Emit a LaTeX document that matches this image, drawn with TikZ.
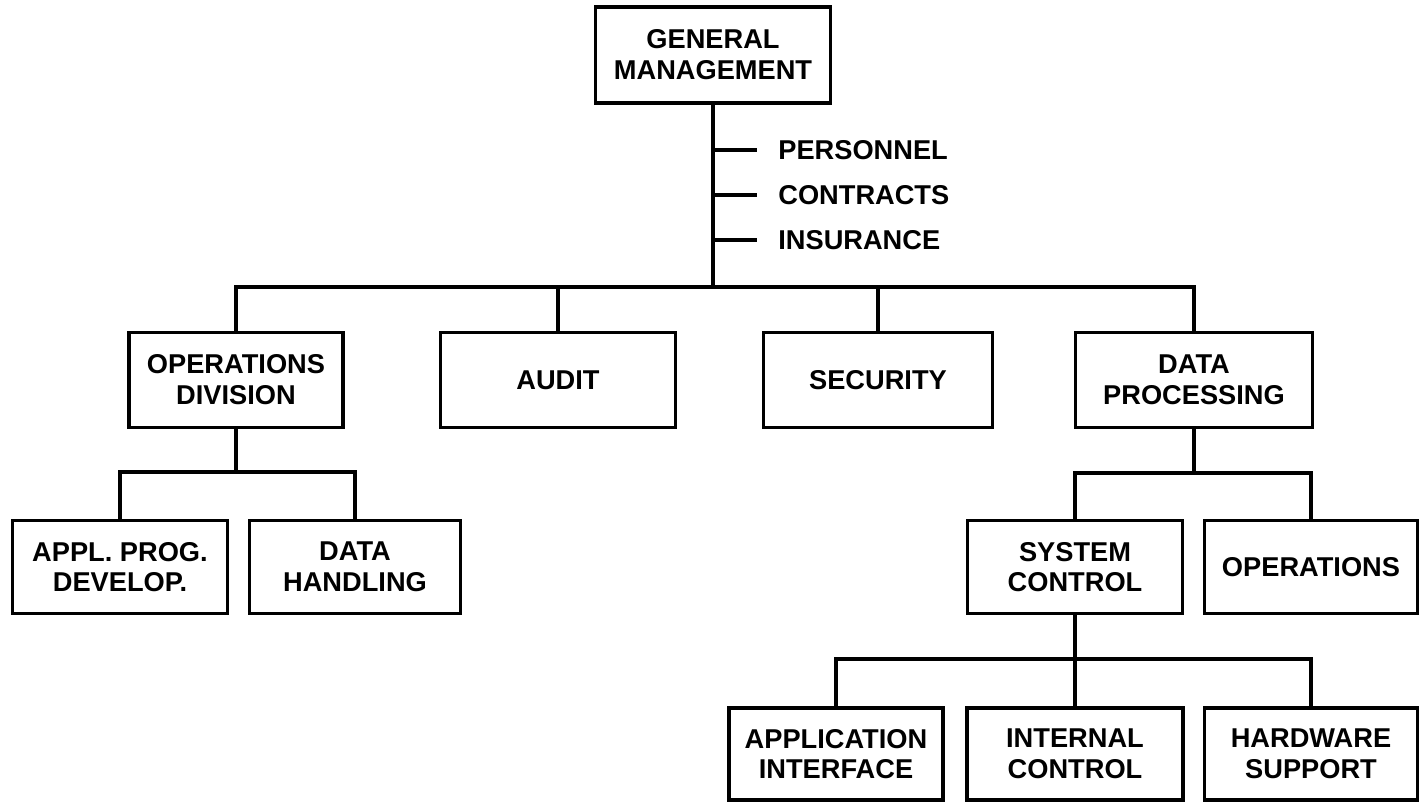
\documentclass[tikz,border=0pt]{standalone}
\usepackage{tikz}
\usepackage{fontspec}
\setmainfont{Liberation Sans}
\usetikzlibrary{positioning,calc}

\begin{document}
\begin{tikzpicture}[x=0.02cm,y=-0.02cm,
    unit/.style={draw,line width=2pt,align=center,inner sep=2pt,
        font=\fontsize{15.5}{17.5}\selectfont\bfseries},
    staff/.style={anchor=west,inner xsep=0.42cm,inner ysep=0pt,
        font=\fontsize{15.5}{17.5}\selectfont\bfseries},
    conn/.style={line width=2pt}]
    \useasboundingbox (0,0) rectangle (1420,803);

    \node[unit,minimum width=4.7cm,minimum height=1.92cm] (GenMgmt) at (713,55) {GENERAL\\MANAGEMENT};

    \node[staff] (Personnel) at (757,150) {PERSONNEL};
    \node[staff] (Contracts) at (757,195) {CONTRACTS};
    \node[staff] (Insurance) at (757,240) {INSURANCE};

    \node[unit,minimum width=4.28cm,minimum height=1.9cm] (OpsDiv) at (236,380) {OPERATIONS\\DIVISION};
    \node[unit,minimum width=4.7cm,minimum height=1.9cm] (Audit) at (558,380) {AUDIT};
    \node[unit,minimum width=4.58cm,minimum height=1.9cm] (Security) at (878,380) {SECURITY};
    \node[unit,minimum width=4.74cm,minimum height=1.9cm] (DataProc) at (1194,380) {DATA\\PROCESSING};

    \node[unit,minimum width=4.3cm,minimum height=1.86cm] (ApplProg) at (120,567) {APPL. PROG.\\DEVELOP.};
    \node[unit,minimum width=4.22cm,minimum height=1.86cm] (DataHandling) at (355,567) {DATA\\HANDLING};
    \node[unit,minimum width=4.3cm,minimum height=1.86cm] (SysControl) at (1075,567) {SYSTEM\\CONTROL};
    \node[unit,minimum width=4.26cm,minimum height=1.86cm] (Operations) at (1311,567) {OPERATIONS};

    \node[unit,minimum width=4.28cm,minimum height=1.84cm] (ApplInterface) at (836,754) {APPLICATION\\INTERFACE};
    \node[unit,minimum width=4.32cm,minimum height=1.84cm] (IntControl) at (1075,754) {INTERNAL\\CONTROL};
    \node[unit,minimum width=4.26cm,minimum height=1.84cm] (HwSupport) at (1311,754) {HARDWARE\\SUPPORT};

    \coordinate (busTop) at (713,287);
    \coordinate (busLeft) at (0,472);
    \coordinate (busRight) at (0,473);
    \coordinate (busLow) at (0,659);

    \draw[conn] (GenMgmt.south) -- (busTop);
    \draw[conn] (Personnel.west -| GenMgmt) -- (Personnel.west);
    \draw[conn] (Contracts.west -| GenMgmt) -- (Contracts.west);
    \draw[conn] (Insurance.west -| GenMgmt) -- (Insurance.west);
    \draw[conn] (OpsDiv.north) |- (busTop) -| (DataProc.north);
    \draw[conn] (Audit.north) -- (Audit.north |- busTop);
    \draw[conn] (Security.north) -- (Security.north |- busTop);

    \draw[conn] (OpsDiv.south) -- (OpsDiv.south |- busLeft);
    \draw[conn] (ApplProg.north) |- (OpsDiv.south |- busLeft) -| (DataHandling.north);

    \draw[conn] (DataProc.south) -- (DataProc.south |- busRight);
    \draw[conn] (SysControl.north) |- (DataProc.south |- busRight) -| (Operations.north);

    \draw[conn] (SysControl.south) -- (IntControl.north);
    \draw[conn] (ApplInterface.north) |- (SysControl.south |- busLow) -| (HwSupport.north);
\end{tikzpicture}
\end{document}
